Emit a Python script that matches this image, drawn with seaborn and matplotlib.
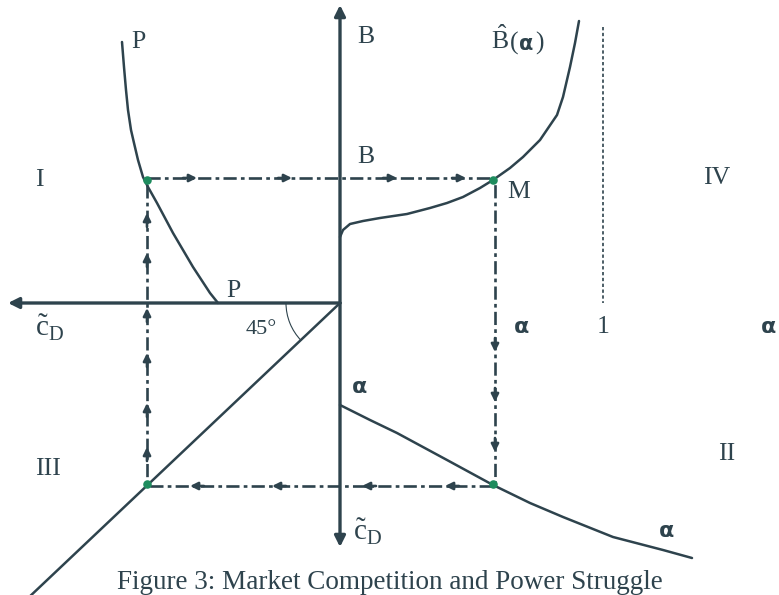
import numpy as np
import pandas as pd
import seaborn as sns
import matplotlib.pyplot as plt
from matplotlib.patches import Arc

sns.set_theme(style="white")
plt.rcParams['font.family'] = ['Liberation Serif', 'DejaVu Serif']
plt.rcParams['mathtext.fontset'] = 'custom'
plt.rcParams['mathtext.rm'] = 'Liberation Serif'

ink = "#2e434d"
green = "#1e8c5e"

# Curves (x right, y down)
p_x = [122, 124, 126, 128, 131, 134, 138, 143, 148, 157, 173, 193, 210, 218]
p_y = [42, 67, 90, 110, 130, 143, 160, 177, 187, 203, 233, 267, 293, 303]

bhat_x = [340, 343, 350, 363, 380, 407, 430, 447, 463, 480, 493, 510, 523,
          540, 557, 563, 570, 575, 579]
bhat_y = [237, 230, 224, 221, 218, 214, 208, 203, 197, 188, 180, 168, 157,
          140, 115, 97, 67, 43, 21]

alpha_x = [340, 370, 397, 447, 493, 530, 563, 613, 663, 692]
alpha_y = [405, 420, 433, 460, 485, 503, 517, 537, 550, 558]

diag_x = [340, 26]
diag_y = [303, 600]

# Equilibrium path
path_x = [147, 495, 495, 147, 147]
path_y = [178, 178, 486, 486, 178]
dot_x = [147, 493, 493, 147]
dot_y = [180, 180, 484, 484]

arrows_right = [197, 292, 397, 466]
arrows_down = [352, 402, 452]
arrows_left = [445, 362, 272, 190]
arrows_up = [447, 403, 353, 308, 253, 213]

fig = plt.figure(figsize=(7.79, 5.95), dpi=100)
ax = fig.add_axes([0, 0, 1, 1])
ax.set_xlim(0, 779)
ax.set_ylim(595, 0)
ax.axis('off')

# coordinate axes
axprops = dict(arrowstyle='-|>', lw=2.4, color=ink, mutation_scale=16,
               shrinkA=0, shrinkB=0)
ax.annotate("", xy=(340, 5), xytext=(340, 303), arrowprops=axprops)
ax.annotate("", xy=(340, 547), xytext=(340, 303), arrowprops=axprops)
ax.annotate("", xy=(8, 303), xytext=(340, 303), arrowprops=axprops)
ax.annotate("", xy=(781, 303), xytext=(340, 303), arrowprops=axprops)

# curves
for xs, ys in [(p_x, p_y), (bhat_x, bhat_y), (alpha_x, alpha_y), (diag_x, diag_y)]:
    sns.lineplot(x=xs, y=ys, sort=False, estimator=None, color=ink, lw=1.8, ax=ax)

# vertical dotted line at alpha = 1
ax.plot([603, 603], [27, 303], color=ink, lw=1.2, dashes=(2, 1.5))

# dash-dot path
ax.plot(path_x, path_y, color=ink, lw=1.9, dashes=(5, 1.6, 1.4, 1.6))

small = dict(arrowstyle='-|>', lw=1.9, color=ink, mutation_scale=11,
             shrinkA=0, shrinkB=0)
for x in arrows_right:
    ax.annotate("", xy=(x, 178), xytext=(x - 14, 178), arrowprops=small)
for y in arrows_down:
    ax.annotate("", xy=(495, y), xytext=(495, y - 14), arrowprops=small)
for x in arrows_left:
    ax.annotate("", xy=(x, 486), xytext=(x + 14, 486), arrowprops=small)
for y in arrows_up:
    ax.annotate("", xy=(147, y), xytext=(147, y + 14), arrowprops=small)

ax.scatter(dot_x, dot_y, s=38, color=green, zorder=5, linewidths=0)

# 45 degree arc
ax.add_patch(Arc((340, 303), 108, 108, theta1=136, theta2=180,
                 color=ink, lw=0.8))

fs = 18.5
txt = dict(color=ink, ha='center', va='center')
ax.text(138, 42, "P", fontsize=fs, **txt)
ax.text(233, 291, "P", fontsize=fs, **txt)
ax.text(366, 37, "B", fontsize=fs, **txt)
ax.text(366, 157, "B", fontsize=fs, **txt)
ax.text(500, 40, r"$\hat{\mathrm{B}}$", fontsize=fs, **txt)
ax.text(510, 43, "(", fontsize=fs, color=ink, ha='left', va='center')
ax.text(526, 44, "α", fontsize=15, fontweight='bold', family='DejaVu Sans',
        color=ink, ha='center', va='center')
ax.text(535, 43, ")", fontsize=fs, color=ink, ha='left', va='center')
ax.text(519, 192, "M", fontsize=fs, **txt)
ax.text(39, 180, "I", fontsize=fs, **txt)
ax.text(717, 178, "IV", fontsize=fs, **txt)
ax.text(48, 469, "III", fontsize=fs, **txt)
ax.text(727, 454, "II", fontsize=fs, **txt)
ax.text(603, 327, "1", fontsize=fs, **txt)
ax.text(261, 330, "45°", fontsize=16, **txt)

afont = dict(fontsize=16, fontweight='bold', family='DejaVu Sans', color=ink,
             ha='center', va='center')
ax.text(522, 327, "α", **afont)
ax.text(769, 327, "α", **afont)
ax.text(360, 387, "α", **afont)
ax.text(667, 531, "α", **afont)

ax.text(50, 328, r"$\tilde{\mathrm{c}}_{\mathrm{D}}$", fontsize=21, **txt)
ax.text(368, 532, r"$\tilde{\mathrm{c}}_{\mathrm{D}}$", fontsize=21, **txt)

ax.text(390, 595, "Figure 3: Market Competition and Power Struggle",
        fontsize=19.5, color=ink, ha='center', va='bottom')

fig.savefig("out.png", dpi=100)
plt.close(fig)
